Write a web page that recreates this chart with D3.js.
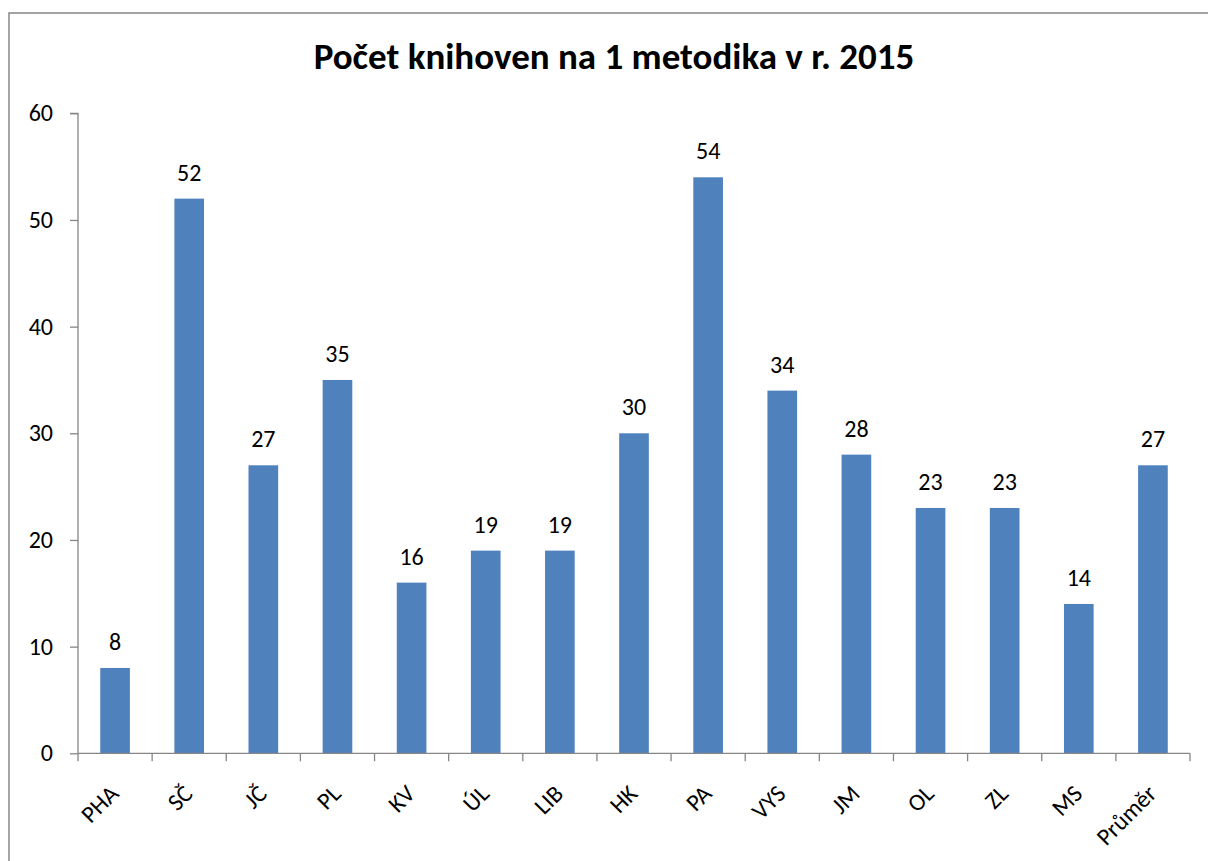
<!DOCTYPE html>
<html><head><meta charset="utf-8">
<script src="https://cdn.jsdelivr.net/npm/d3@7"></script>
<style>body{margin:0;background:#fff}svg{display:block}</style>
</head><body>
<svg id="c" width="1208" height="861"></svg>
<script>
const categories = ["PHA","SČ","JČ","PL","KV","ÚL","LIB","HK","PA","VYS","JM","OL","ZL","MS","Průměr"];
const values = [8,52,27,35,16,19,19,30,54,34,28,23,23,14,27];
const yTicks = [0,10,20,30,40,50,60];
const title = "Počet knihoven na 1 metodika v r. 2015";

const font = "Carlito, Calibri, Lato, sans-serif";
const svg = d3.select("#c");
const m = {left:78, right:1190, top:113.3, bottom:753.3};

svg.append("rect").attr("x",9).attr("y",13).attr("width",1250).attr("height",900)
  .attr("fill","none").attr("stroke","#868686").attr("stroke-width",1.5);

const x = d3.scaleBand().domain(categories).range([m.left,m.right]).paddingInner(0.6).paddingOuter(0.3);
const y = d3.scaleLinear().domain([0,60]).range([m.bottom,m.top]);

svg.append("text").attr("x",614).attr("y",69).attr("text-anchor","middle")
  .attr("font-family",font).attr("font-weight","bold").attr("font-size",37).attr("fill","#000").text(title);

// y axis
const ya = svg.append("g").attr("transform",`translate(${m.left},0)`)
  .call(d3.axisLeft(y).tickValues(yTicks).tickSize(8).tickPadding(17));
ya.attr("font-family",null).attr("font-size",null);
ya.select(".domain").attr("stroke","#868686").attr("stroke-width",1.3).attr("d",`M-8,${m.top}H0V${m.bottom}`);
ya.selectAll(".tick line").attr("stroke","#868686").attr("stroke-width",1.3);
ya.selectAll(".tick text").attr("font-family",font).attr("font-size",24).attr("fill","#000");

// bars
svg.append("g").selectAll("rect").data(values).join("rect")
  .attr("x",(d,i)=>x(categories[i])).attr("width",x.bandwidth())
  .attr("y",d=>y(d)).attr("height",d=>y(0)-y(d)).attr("fill","#4F81BD");

// data labels
svg.append("g").selectAll("text").data(values).join("text")
  .attr("x",(d,i)=>x(categories[i])+x.bandwidth()/2).attr("y",d=>y(d)-18)
  .attr("text-anchor","middle").attr("font-family",font).attr("font-size",24).attr("fill","#000")
  .text(d=>d);

// x axis
const xg = svg.append("g").attr("transform",`translate(0,${m.bottom})`);
xg.append("path").attr("d",`M${m.left},0H${m.right}`).attr("stroke","#868686").attr("stroke-width",1.3).attr("fill","none");
const boundaries = d3.range(categories.length+1).map(i=>m.left + i*(m.right-m.left)/categories.length);
xg.selectAll("line").data(boundaries).join("line")
  .attr("x1",d=>d).attr("x2",d=>d).attr("y1",0).attr("y2",8).attr("stroke","#868686").attr("stroke-width",1.3);
xg.selectAll("text").data(categories).join("text")
  .attr("transform",d=>`translate(${x(d)+x.bandwidth()/2-7},${30}) rotate(-45)`)
  .attr("text-anchor","end").attr("dy","0.7em").attr("font-family",font).attr("font-size",24).attr("fill","#000")
  .text(d=>d);
</script>
</body></html>
